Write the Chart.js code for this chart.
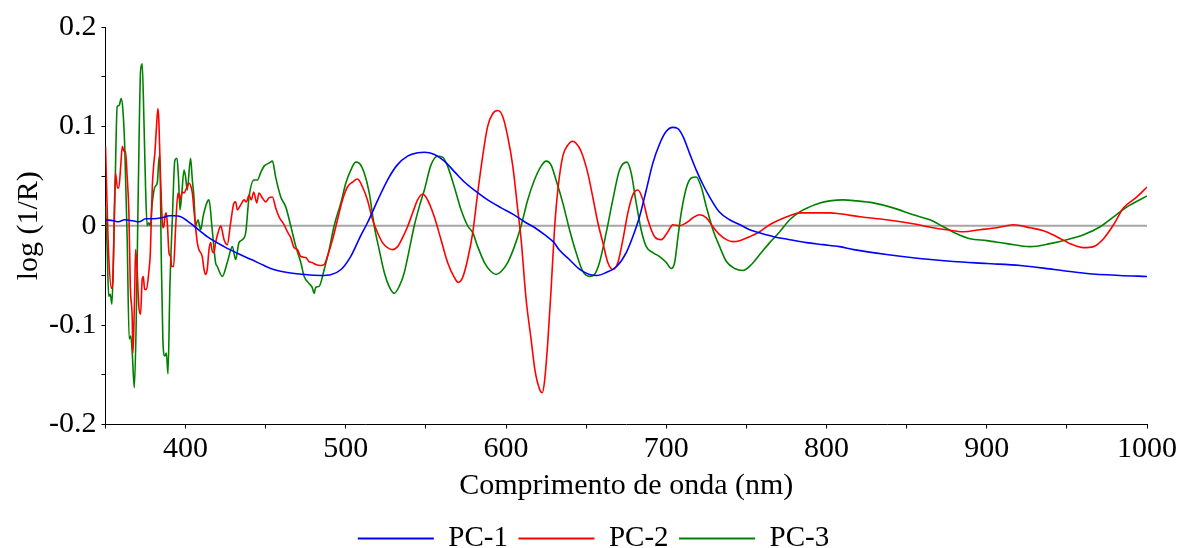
<!DOCTYPE html>
<html>
<head>
<meta charset="utf-8">
<title>PCA loadings</title>
<script src="https://cdn.jsdelivr.net/npm/chart.js@4/dist/chart.umd.min.js"></script>
<style>
  html, body { margin: 0; padding: 0; background: #fff; }
  canvas { display: block; }
</style>
</head>
<body>
<canvas id="loadings" width="1181" height="548"></canvas>
<script>
// 設定
const SERIES_NAMES = ["PC-1", "PC-2", "PC-3"];
const SERIES_COLORS = ["#0000ff", "#ff0000", "#008000"];
const X_TITLE = "Comprimento de onda (nm)";
const Y_TITLE = "log (1/R)";
const X_MIN = 350, X_MAX = 1000;
const Y_MIN = -0.2, Y_MAX = 0.2;

// PC-1 (nm / valor)
const pc1Wl = [350, 355, 358, 362, 367, 371, 375, 380, 385, 390, 393, 397, 401, 405, 413.5, 424, 434, 441, 449,
  455, 463.5, 474, 484, 491, 497, 503, 509, 513.5, 520, 526, 532, 538.5, 545, 549, 555, 561.5, 568, 574, 580,
  588.5, 597, 605, 611.5, 618, 624, 630, 633, 639.5, 646, 652, 657, 662.5, 669, 675, 680, 683.3, 687.5, 691.6,
  696, 700, 704, 707, 710.4, 714.5, 718.7, 723, 727, 733, 739.5, 746, 752, 758, 767, 777, 787.5, 798, 808, 817,
  837.5, 858, 879, 900, 921, 942, 962.5, 983, 1000];
const pc1Val = [0.006, 0.005, 0.004, 0.006, 0.005, 0.004, 0.007, 0.007, 0.008, 0.010, 0.010, 0.009, 0.005, 0.000,
  -0.011, -0.021, -0.029, -0.034, -0.040, -0.044, -0.047, -0.049, -0.050, -0.049, -0.044, -0.031, -0.011, 0.003,
  0.026, 0.046, 0.061, 0.070, 0.0735, 0.074, 0.072, 0.065, 0.054, 0.044, 0.036, 0.026, 0.018, 0.011, 0.004,
  -0.002, -0.009, -0.017, -0.024, -0.034, -0.044, -0.049, -0.050, -0.047, -0.041, -0.027, -0.007, 0.009, 0.036,
  0.063, 0.083, 0.095, 0.099, 0.098, 0.090, 0.073, 0.056, 0.041, 0.029, 0.014, 0.006, 0.001, -0.004, -0.007,
  -0.011, -0.014, -0.017, -0.019, -0.021, -0.024, -0.029, -0.033, -0.036, -0.038, -0.040, -0.044, -0.048,
  -0.050, -0.051];

// PC-2
const pc2Wl = [350, 351, 352, 353.7, 354.6, 356.2, 357.5, 358.3, 359.5, 360.5, 361.5, 362.5, 363.5, 364.6, 365.5,
  366.7, 367.1, 367.5, 368.3, 368.8, 369.8, 370.8, 371.9, 372.9, 373.6, 374.4, 375.6, 377, 378, 379.2, 380.2,
  380.8, 381.7, 382.7, 383.3, 384.2, 385, 385.8, 386.5, 387.1, 387.9, 388.7, 389.6, 390.6, 391.3, 392.5, 393.7,
  395.2, 396.5, 397.9, 399, 400.6, 402, 403, 404.2, 405.2, 407.3, 408.3, 410.4, 411.5, 412.5, 413.5, 414.6,
  415.6, 416.7, 417.7, 418.7, 420.8, 421.9, 424, 426, 428.1, 430.2, 431.2, 432.3, 434.4, 436.5, 438, 439.6, 441,
  442.5, 444.4, 445.8, 447.9, 450, 452, 454.2, 456.2, 458.3, 461.5, 463.5, 465.6, 467.7, 469.8, 471.9, 475, 477,
  479, 481.2, 484.4, 486.5, 488.5, 491.7, 494.8, 497.9, 501, 504.2, 507.3, 510.4, 513.5, 516.7, 519.8, 522.9,
  526, 529.2, 532.3, 535.4, 538.5, 541.7, 544.8, 548, 551, 555.2, 559.4, 563.5, 567.7, 570.2, 572.9, 576, 579.2,
  582.3, 585.4, 588.5, 591.7, 594.8, 597.9, 601, 604.2, 607.3, 609.4, 612.5, 615.6, 618, 620.8, 622.5, 623.9,
  626, 628.1, 630.2, 632.3, 635.4, 638.5, 641.6, 643.7, 646.8, 651, 654.1, 657.3, 660.4, 663.5, 666.6, 669.8,
  672.9, 676, 679.1, 682.3, 685.4, 688.5, 692.7, 696.8, 701, 704.1, 708.3, 712.5, 716.6, 720.8, 725, 729.1,
  733.3, 737.5, 741.6, 745.8, 752, 758.3, 764.5, 770.8, 777, 783.3, 789.5, 795.8, 802, 808.3, 820.8, 837.5,
  854.1, 866.6, 875, 885.4, 895.8, 906.2, 916.6, 927, 935.4, 943.7, 952, 960.4, 966.6, 972.9, 979.1, 985.4,
  993.7, 1000];
const pc2Val = [0.080, 0.020, -0.030, -0.063, -0.055, 0.053, 0.038, 0.038, 0.060, 0.080, 0.075, 0.075, 0.050, 0.013,
  -0.061, -0.094, -0.128, -0.115, -0.061, -0.024, -0.046, -0.081, -0.089, -0.054, -0.051, -0.064, -0.064, -0.047,
  -0.027, 0.039, 0.063, 0.073, 0.096, 0.118, 0.106, 0.056, 0.019, -0.002, 0.000, 0.009, 0.013, 0.000, -0.027,
  -0.031, -0.041, -0.041, -0.004, 0.033, 0.026, 0.034, 0.033, 0.038, 0.043, 0.041, 0.033, 0.016, -0.017, -0.024,
  -0.031, -0.044, -0.049, -0.044, -0.024, -0.017, -0.026, -0.027, -0.017, -0.004, 0.000, -0.014, -0.019, 0.003,
  0.023, 0.024, 0.016, 0.021, 0.026, 0.024, 0.031, 0.026, 0.034, 0.023, 0.033, 0.028, 0.024, 0.028, 0.029,
  0.018, 0.009, 0.001, -0.006, -0.012, -0.022, -0.024, -0.031, -0.032, -0.036, -0.037, -0.039, -0.040, -0.039,
  -0.031, -0.014, 0.006, 0.026, 0.039, 0.044, 0.047, 0.039, 0.026, 0.006, -0.007, -0.017, -0.022, -0.024,
  -0.021, -0.012, -0.001, 0.013, 0.026, 0.032, 0.026, 0.009, -0.014, -0.037, -0.052, -0.057, -0.052, -0.034,
  -0.007, 0.033, 0.070, 0.100, 0.113, 0.116, 0.110, 0.090, 0.060, 0.016, -0.014, -0.074, -0.114, -0.145,
  -0.164, -0.168, -0.158, -0.118, -0.064, -0.004, 0.036, 0.070, 0.081, 0.085, 0.083, 0.075, 0.053, 0.029,
  0.003, -0.017, -0.037, -0.044, -0.037, -0.014, 0.013, 0.031, 0.036, 0.026, 0.006, -0.011, -0.014, -0.006,
  0.001, 0.000, 0.003, 0.008, 0.011, 0.008, -0.001, -0.009, -0.014, -0.016, -0.015, -0.011, -0.006, 0.001,
  0.006, 0.010, 0.013, 0.013, 0.013, 0.013, 0.012, 0.009, 0.006, 0.002, -0.002, -0.004, -0.006, -0.004,
  -0.002, 0.001, -0.002, -0.005, -0.011, -0.018, -0.022, -0.021, -0.013, 0.001, 0.018, 0.029, 0.039];

// PC-3
const pc3Wl = [350, 351, 352, 353, 354, 355, 356, 357.3, 358.5, 359.8, 360.8, 362, 363.5, 364.8, 365.8, 366.7, 368,
  369.2, 370.5, 371.9, 372.9, 374, 375, 376, 377, 378, 379, 380.8, 382.3, 383.3, 383.9, 384.8, 385.8, 387, 388,
  389, 390.2, 391.7, 393.3, 394.6, 395.5, 396.5, 397.5, 399, 400, 401, 403.1, 404.2, 405.2, 406.2, 407.7, 409.4,
  411, 413.5, 414.6, 416.6, 418.7, 419.8, 422.9, 426, 429.2, 431.2, 433.3, 435.4, 437.5, 439.6, 442.7, 444.8,
  447, 449, 452, 454.2, 456.2, 459.4, 462.5, 465.6, 468.8, 471.9, 474, 477, 479, 480.2, 481.2, 483.3, 486.5,
  489.6, 492.7, 496.9, 500, 503.1, 506.2, 508.3, 511.5, 514.6, 517.7, 520.8, 524, 527, 530.2, 533.3, 536.5,
  539.6, 542.7, 545.8, 549, 553.1, 557.3, 560.4, 563.5, 567.7, 571.9, 576, 579.2, 582.3, 586.5, 590.6, 593.8,
  596.9, 601, 605.2, 609.4, 613.5, 617.7, 621.9, 625, 628.1, 631.2, 635.4, 639.6, 643.7, 647.9, 652.1, 655.2,
  658.3, 662.5, 666.6, 670.8, 675.4, 678.1, 681.2, 684.3, 687.5, 691.6, 695.8, 700, 703.1, 705.2, 707.3, 709.3,
  712.5, 715.6, 718.7, 721.8, 725, 729.1, 733.3, 737.5, 742.7, 747.9, 753.1, 758.3, 764.5, 770.8, 777, 783.3,
  789.5, 795.8, 802, 810.4, 818.7, 829.1, 841.6, 854.1, 864.5, 872.9, 881.2, 889.5, 900, 912.5, 927, 939.5,
  950, 960.4, 970.8, 979.1, 987.5, 1000];
const pc3Val = [0.020, -0.020, -0.071, -0.069, -0.079, -0.030, 0.040, 0.120, 0.121, 0.128, 0.118, 0.080, -0.010,
  -0.114, -0.111, -0.128, -0.163, -0.094, 0.040, 0.156, 0.163, 0.106, 0.039, 0.000, 0.003, 0.000, 0.020, 0.039,
  0.043, 0.066, 0.071, -0.030, -0.114, -0.131, -0.128, -0.149, -0.061, 0.006, 0.066, 0.068, 0.050, 0.016, 0.030,
  0.056, 0.049, 0.036, 0.068, 0.046, 0.029, 0.000, 0.006, -0.004, 0.010, 0.024, 0.026, -0.004, -0.037, -0.041,
  -0.051, -0.037, -0.021, -0.034, -0.017, -0.014, -0.007, 0.029, 0.046, 0.046, 0.054, 0.060, 0.063, 0.065,
  0.049, 0.029, 0.019, 0.000, -0.021, -0.037, -0.051, -0.058, -0.062, -0.068, -0.062, -0.061, -0.044, -0.024,
  0.000, 0.023, 0.043, 0.056, 0.064, 0.063, 0.053, 0.033, 0.000, -0.024, -0.047, -0.061, -0.068, -0.061,
  -0.047, -0.024, 0.000, 0.019, 0.036, 0.061, 0.070, 0.069, 0.060, 0.039, 0.016, 0.000, -0.007, -0.021, -0.037,
  -0.046, -0.049, -0.046, -0.037, -0.021, 0.000, 0.026, 0.046, 0.060, 0.065, 0.061, 0.046, 0.023, -0.004,
  -0.027, -0.046, -0.051, -0.049, -0.037, -0.007, 0.026, 0.056, 0.064, 0.053, 0.023, -0.004, -0.021, -0.027,
  -0.031, -0.037, -0.043, -0.037, -0.011, 0.013, 0.038, 0.048, 0.049, 0.039, 0.019, -0.004, -0.021, -0.036,
  -0.043, -0.045, -0.039, -0.029, -0.017, -0.006, 0.006, 0.014, 0.019, 0.023, 0.025, 0.026, 0.025, 0.023,
  0.018, 0.011, 0.006, -0.001, -0.008, -0.013, -0.015, -0.018, -0.021, -0.018, -0.014, -0.009, -0.001, 0.009,
  0.019, 0.030];

// linha de referência em zero
const zeroWl = [X_MIN, X_MAX];
const zeroVal = [0, 0];

const FONT = "'Liberation Serif', 'Times New Roman', serif";

function toPoints(wl, val) {
  return wl.map((w, i) => ({ x: w, y: val[i] }));
}

function lineDataset(label, wl, val, color) {
  return {
    label,
    data: toPoints(wl, val),
    borderColor: color,
    backgroundColor: color,
    borderWidth: 1.6,
    pointRadius: 0,
    cubicInterpolationMode: "monotone",
    fill: false
  };
}

const datasets = [
  lineDataset(SERIES_NAMES[0], pc1Wl, pc1Val, SERIES_COLORS[0]),
  lineDataset(SERIES_NAMES[1], pc2Wl, pc2Val, SERIES_COLORS[1]),
  lineDataset(SERIES_NAMES[2], pc3Wl, pc3Val, SERIES_COLORS[2]),
  {
    label: "zero",
    data: toPoints(zeroWl, zeroVal),
    borderColor: "#a6a6a6",
    borderWidth: 2,
    pointRadius: 0,
    fill: false
  }
];

const ctx = document.getElementById("loadings").getContext("2d");
const chart = new Chart(ctx, {
  type: "line",
  data: { datasets },
  options: {
    responsive: false,
    animation: false,
    devicePixelRatio: 1,
    layout: { padding: { left: 6, right: 0, top: 27, bottom: -15 } },
    plugins: {
      tooltip: { enabled: false },
      legend: {
        position: "bottom",
        labels: {
          font: { family: FONT, size: 29 },
          color: "#000",
          boxWidth: 76,
          boxHeight: 2,
          padding: 10.5,
          filter: (item) => item.datasetIndex < 3,
          generateLabels: (c) => Chart.defaults.plugins.legend.labels.generateLabels(c)
            .map(item => Object.assign(item, { lineWidth: 0 }))
        }
      }
    },
    scales: {
      x: {
        type: "linear",
        min: X_MIN,
        max: X_MAX,
        // margem à direita do eixo
        afterFit: (s) => { s.paddingRight = 34; },
        border: { display: true, color: "#000", width: 1 },
        grid: { drawOnChartArea: false, drawTicks: true, tickLength: 4, color: "#000" },
        ticks: {
          stepSize: 50,
          autoSkip: false,
          maxRotation: 0,
          padding: 6,
          color: "#000",
          font: { family: FONT, size: 30, lineHeight: 1.0 },
          callback: (v) => (Math.round(v) % 100 === 0 ? String(Math.round(v)) : "")
        },
        title: {
          display: true,
          text: X_TITLE,
          color: "#000",
          font: { family: FONT, size: 30, lineHeight: 1.0 },
          padding: { top: 1, bottom: 12 }
        }
      },
      y: {
        min: Y_MIN,
        max: Y_MAX,
        border: { display: true, color: "#000", width: 1 },
        grid: { drawOnChartArea: false, drawTicks: true, tickLength: 4, color: "#000" },
        ticks: {
          stepSize: 0.05,
          autoSkip: false,
          padding: 5,
          color: "#000",
          font: { family: FONT, size: 30 },
          callback: (v) => {
            const k = Math.round(v * 20);
            if (k % 2 !== 0) return "";
            return k === 0 ? "0" : (k / 20).toFixed(1);
          }
        },
        title: {
          display: true,
          text: Y_TITLE,
          color: "#000",
          font: { family: FONT, size: 30, lineHeight: 1.0 },
          padding: { top: 8, bottom: 0 }
        }
      }
    }
  }
});
</script>
</body>
</html>
